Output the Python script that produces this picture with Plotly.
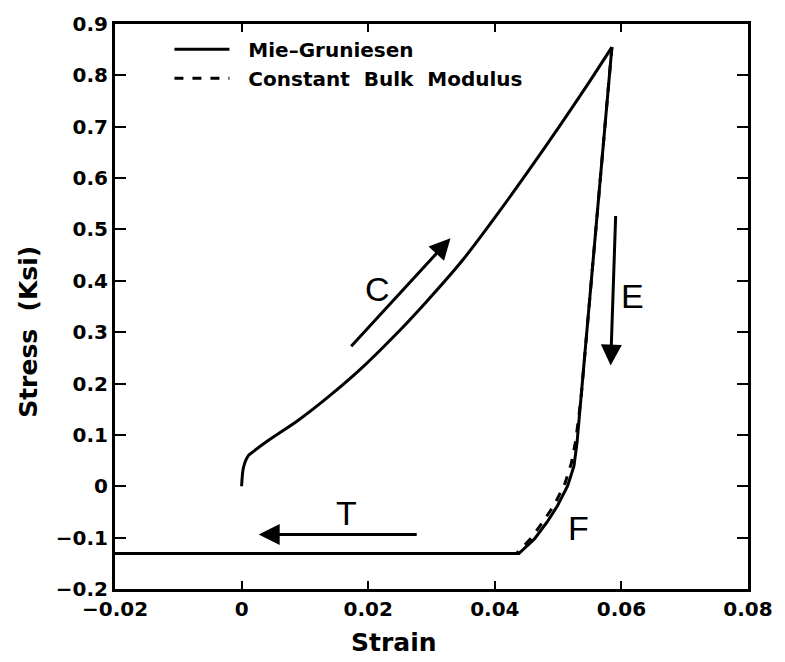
import plotly.graph_objects as go

# Compression loading branch (shared by both equation-of-state models)
strain_load = [0.0, 0.0003, 0.0011, 0.0021, 0.0042, 0.0089, 0.0135, 0.0187, 0.024,
               0.0291, 0.0349, 0.040, 0.0452, 0.0505, 0.0546, 0.0585]
stress_load = [0.0, 0.037, 0.060, 0.070, 0.089, 0.128, 0.172, 0.227, 0.291,
               0.358, 0.440, 0.523, 0.612, 0.706, 0.781, 0.855]

# Mie-Gruniesen unloading branch, down to the tension cutoff
strain_unload_mg = [0.0585, 0.0564, 0.0550, 0.0541, 0.0536, 0.0530, 0.0525, 0.0515,
                    0.0499, 0.0483, 0.0463, 0.0444, 0.0438, -0.02]
stress_unload_mg = [0.855, 0.556, 0.362, 0.233, 0.169, 0.086, 0.039, 0.0006,
                    -0.038, -0.069, -0.102, -0.125, -0.131, -0.131]

# Constant bulk modulus unloading branch (differs only near the knee)
strain_unload_cb = [0.0585, 0.0564, 0.0550, 0.0541, 0.0536, 0.0528, 0.0521, 0.0511,
                    0.0495, 0.0478, 0.0458, 0.0440, 0.0434, -0.02]
stress_unload_cb = [0.855, 0.556, 0.362, 0.233, 0.169, 0.090, 0.045, 0.006,
                    -0.034, -0.066, -0.100, -0.124, -0.131, -0.131]

x_ticks = [-0.02, 0, 0.02, 0.04, 0.06, 0.08]
x_tick_text = ["\u22120.02", "0", "0.02", "0.04", "0.06", "0.08"]
y_ticks = [-0.2, -0.1, 0, 0.1, 0.2, 0.3, 0.4, 0.5, 0.6, 0.7, 0.8, 0.9]
y_tick_text = ["\u22120.2", "\u22120.1", "0", "0.1", "0.2", "0.3", "0.4", "0.5",
               "0.6", "0.7", "0.8", "0.9"]

# Path-direction arrows: (tail_x, tail_y, head_x, head_y)
arrows = [
    (0.0171, 0.2695, 0.0330, 0.483),   # compression loading
    (0.0591, 0.529, 0.0583, 0.235),    # elastic unloading
    (0.0279, -0.094, 0.0027, -0.094),  # tension cutoff
]
# Segment letters: (x, y, text)
labels = [
    (0.0215, 0.384, "C"),
    (0.0618, 0.370, "E"),
    (0.0166, -0.052, "T"),
    (0.0532, -0.082, "F"),
]

bold = dict(family="DejaVu Sans", weight="bold", color="black")

fig = go.Figure()
fig.add_trace(go.Scatter(x=strain_load, y=stress_load, mode="lines",
                         name="  Mie\u2013Gruniesen", legendgroup="mg",
                         line=dict(color="black", width=3, shape="spline",
                                   smoothing=0.8)))
fig.add_trace(go.Scatter(x=strain_unload_mg, y=stress_unload_mg, mode="lines",
                         name="  Mie\u2013Gruniesen", legendgroup="mg",
                         showlegend=False,
                         line=dict(color="black", width=3)))
fig.add_trace(go.Scatter(x=strain_unload_cb, y=stress_unload_cb, mode="lines",
                         name="  Constant  Bulk  Modulus", legendgroup="cb",
                         line=dict(color="black", width=3, dash="dash")))

for tx, ty, hx, hy in arrows:
    fig.add_annotation(x=hx, y=hy, ax=tx, ay=ty, xref="x", yref="y",
                       axref="x", ayref="y", text="", showarrow=True,
                       arrowhead=2, arrowsize=1.4, arrowwidth=3,
                       arrowcolor="black")

for lx, ly, lt in labels:
    fig.add_annotation(x=lx, y=ly, xref="x", yref="y", text=lt,
                       showarrow=False,
                       font=dict(family="Liberation Sans", size=34, color="black"))

fig.add_annotation(x=-0.136, y=0.455, xref="paper", yref="paper",
                   xanchor="center", yanchor="middle",
                   text="Stress  (Ksi)", textangle=-90, showarrow=False,
                   font=dict(bold, size=25))
fig.add_annotation(x=0.44, y=-0.095, xref="paper", yref="paper",
                   xanchor="center", yanchor="middle",
                   text="Strain", showarrow=False,
                   font=dict(bold, size=25))

axis_common = dict(showline=True, linecolor="black", linewidth=3, mirror="allticks",
                   ticks="inside", tickcolor="black", tickwidth=2,
                   showgrid=False, zeroline=False,
                   tickfont=dict(bold, size=20))

fig.update_xaxes(range=[-0.02, 0.08], tickvals=x_ticks, ticktext=x_tick_text,
                 ticklen=8, **axis_common)
fig.update_yaxes(range=[-0.2, 0.9], tickvals=y_ticks, ticktext=y_tick_text,
                 ticklen=11, **axis_common)

fig.update_layout(
    width=785, height=662,
    margin=dict(l=115, r=29, t=22, b=73),
    plot_bgcolor="white", paper_bgcolor="white",
    showlegend=True,
    legend=dict(x=0.086, y=0.99, xanchor="left", yanchor="top",
                bgcolor="rgba(0,0,0,0)", borderwidth=0, tracegroupgap=0,
                font=dict(bold, size=20), itemwidth=55),
)

fig.write_html("out.html")
